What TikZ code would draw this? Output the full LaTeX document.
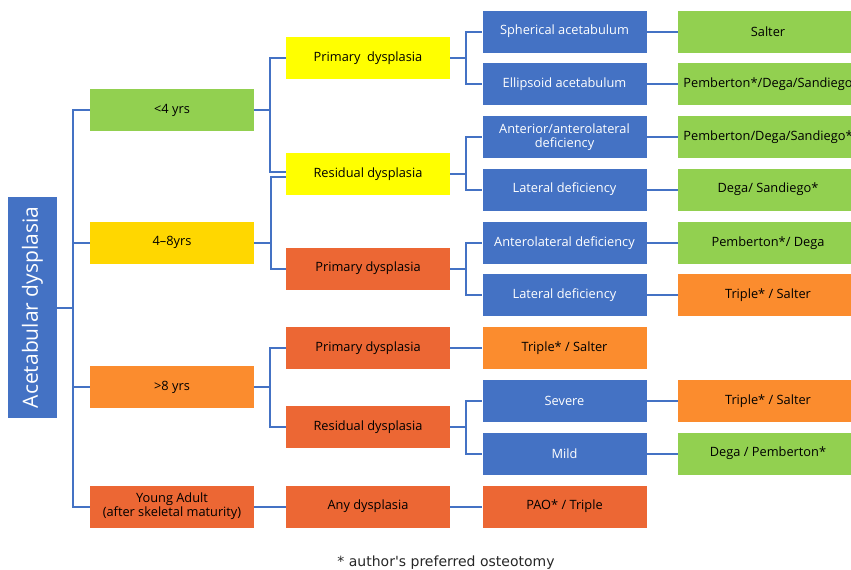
\documentclass[tikz,border=0pt]{standalone}
\usepackage{fontspec}
\setmainfont{Open Sans}
\newfontfamily\notefont{DejaVu Sans}
\definecolor{blueC}{HTML}{4472C4}
\definecolor{greenC}{HTML}{92D050}
\definecolor{yellowC}{HTML}{FFFF00}
\definecolor{goldC}{HTML}{FFD700}
\definecolor{orangeC}{HTML}{FB8C2E}
\definecolor{redC}{HTML}{EC6734}
\begin{document}
\begin{tikzpicture}[x=1pt,y=-1pt,
  box/.style={rectangle, inner sep=0pt, minimum height=42pt, minimum width=164pt,
    align=center, font=\fontsize{12.8}{14}\selectfont, text=black},
  wbox/.style={box, minimum width=180pt},
  bluebox/.style={box, fill=blueC, text=white},
  conn/.style={draw=blueC, line width=2pt}
]
\useasboundingbox (0,0) rectangle (851,570);

% root
\node[fill=blueC, text=white, rotate=90, minimum width=221pt, minimum height=49pt,
      inner sep=0pt, font=\fontsize{21}{23}\selectfont] (root) at (32.5,307.5) {Acetabular dysplasia};

% level 1
\node[box, fill=greenC]  (a1) at (172,110)   {<4 yrs};
\node[box, fill=goldC]   (a2) at (172,242.5) {4–8yrs};
\node[box, fill=orangeC] (a3) at (172,387)   {>8 yrs};
\node[box, fill=redC]    (a4) at (172,506.5) {Young Adult\\(after skeletal maturity)};

% level 2
\node[box, fill=yellowC] (b1) at (368,58)  {Primary~~dysplasia};
\node[box, fill=yellowC] (b2) at (368,174) {Residual dysplasia};
\node[box, fill=redC]    (b3) at (368,268.5) {Primary dysplasia};
\node[box, fill=redC]    (b4) at (368,348) {Primary dysplasia};
\node[box, fill=redC]    (b5) at (368,427) {Residual dysplasia};
\node[box, fill=redC]    (b6) at (368,506.5) {Any dysplasia};

% level 3
\node[bluebox] (c1) at (564.5,31.5)  {Spherical acetabulum};
\node[bluebox] (c2) at (564.5,84)    {Ellipsoid acetabulum};
\node[bluebox] (c3) at (564.5,137)   {Anterior/anterolateral\\deficiency};
\node[bluebox] (c4) at (564.5,189.5) {Lateral deficiency};
\node[bluebox] (c5) at (564.5,243)   {Anterolateral deficiency};
\node[bluebox] (c6) at (564.5,295)   {Lateral deficiency};
\node[box, fill=orangeC] (c7) at (564.5,348) {Triple* / Salter};
\node[bluebox] (c8) at (564.5,401)   {Severe};
\node[bluebox] (c9) at (564.5,453.5) {Mild};
\node[box, fill=redC] (c10) at (564.5,506.5) {PAO* / Triple};

% level 4
\node[wbox, fill=greenC]  (d1) at (768,31.5)  {Salter};
\node[wbox, fill=greenC]  (d2) at (768,84)    {Pemberton*/Dega/Sandiego};
\node[wbox, fill=greenC]  (d3) at (768,137)   {Pemberton/Dega/Sandiego*};
\node[wbox, fill=greenC]  (d4) at (768,189.5) {Dega/ Sandiego*};
\node[wbox, fill=greenC]  (d5) at (768,243)   {Pemberton*/ Dega};
\node[wbox, fill=orangeC] (d6) at (768,295)   {Triple* / Salter};
\node[wbox, fill=orangeC] (d7) at (768,401)   {Triple* / Salter};
\node[wbox, fill=greenC]  (d8) at (768,453.5) {Dega / Pemberton*};

% footnote
\node[font=\notefont\fontsize{14}{16}\selectfont, text=black!85] (note) at (446,563)
  {* author\textquotesingle s preferred osteotomy};

% connectors root -> level 1
\foreach \n in {a1,a2,a3,a4}
  \draw[conn] (root.south) -- ++(16,0) |- (\n.west);

% level 1 -> level 2
\draw[conn] (a1.east) -- ++(16,0) |- (b1.west);
\draw[conn] (a1.east) -- ++(16,0) |- ([yshift=2pt]b2.west);
\draw[conn] (a2.east) -- ++(17,0) |- ([yshift=-2.5pt]b2.west);
\draw[conn] (a2.east) -- ++(17,0) |- (b3.west);
\draw[conn] (a3.east) -- ++(16,0) |- (b4.west);
\draw[conn] (a3.east) -- ++(16,0) |- (b5.west);
\draw[conn] (a4.east) -- (b6.west);

% level 2 -> level 3
\draw[conn] (b1.east) -- ++(16,0) |- (c1.west);
\draw[conn] (b1.east) -- ++(16,0) |- (c2.west);
\draw[conn] (b2.east) -- ++(16,0) |- (c3.west);
\draw[conn] (b2.east) -- ++(16,0) |- (c4.west);
\draw[conn] (b3.east) -- ++(16,0) |- (c5.west);
\draw[conn] (b3.east) -- ++(16,0) |- (c6.west);
\draw[conn] (b4.east) -- (c7.west);
\draw[conn] (b5.east) -- ++(16,0) |- (c8.west);
\draw[conn] (b5.east) -- ++(16,0) |- (c9.west);
\draw[conn] (b6.east) -- (c10.west);

% level 3 -> level 4
\draw[conn] (c1.east) -- (d1.west);
\draw[conn] (c2.east) -- (d2.west);
\draw[conn] (c3.east) -- (d3.west);
\draw[conn] (c4.east) -- (d4.west);
\draw[conn] (c5.east) -- (d5.west);
\draw[conn] (c6.east) -- (d6.west);
\draw[conn] (c8.east) -- (d7.west);
\draw[conn] (c9.east) -- (d8.west);
\end{tikzpicture}
\end{document}
